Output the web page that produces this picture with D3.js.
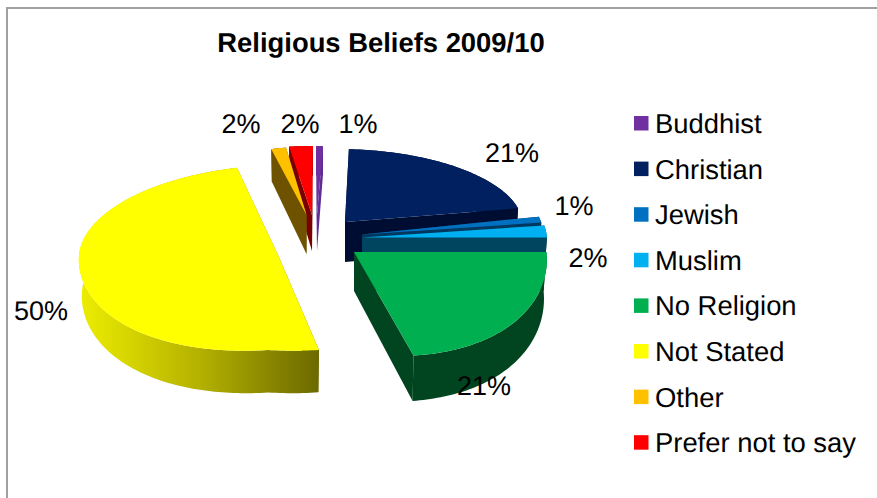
<!DOCTYPE html>
<html><head><meta charset="utf-8">
<script src="https://cdn.jsdelivr.net/npm/d3@7/dist/d3.min.js"></script>
<style>html,body{margin:0;padding:0;background:#fff}svg{display:block;font-family:"Liberation Sans",Arial,sans-serif;text-rendering:geometricPrecision}</style>
</head><body><svg id="c" width="877" height="498"></svg>
<script>
const categories = ["Buddhist","Christian","Jewish","Muslim","No Religion","Not Stated","Other","Prefer not to say"];
const values = [1,21,1,2,21,50,2,2];
const topColors = ["#7030a0","#002060","#0070c0","#00b0f0","#00b050","#ffff00","#ffc000","#ff0000"];
const wallColors = ["#5f2c92","#000d33","#00385f","#004560","#00451f","url(#yw)","#6e5200","#7a0000"];
const title = "Religious Beliefs 2009/10";

// Per-slice projection of the exploded, tilted disk.
const geometry = {
  "Buddhist":          {cx:317,cy:215,rx:111,far:69,near:69,sk:-1,b:0,dd:0},
  "Christian":         {cx:345,cy:222,rx:177.6,far:73,near:75,sk:-7.3,b:0,dd:4},
  "Jewish":            {cx:362,cy:234.5,rx:182,far:95,near:95,sk:-10,b:0,dd:0},
  "Muslim":            {cx:362,cy:237.5,rx:185,far:96,near:96,sk:-10,b:0,dd:0},
  "No Religion":       {cx:354,cy:252,rx:192.5,far:90,near:103,sk:-12,b:8,dd:3},
  "Not Stated":        {cx:278,cy:255,rx:199,far:90,near:95,sk:8.8,b:6,dd:0},
  "Other":             {cx:306.5,cy:215,rx:120,far:68,near:68,sk:-5.5,b:0,dd:3},
  "Prefer not to say": {cx:312,cy:215,rx:190,far:69,near:69,sk:1,b:0,dd:0}
};
const drawOrder = ["Not Stated","Prefer not to say","Other","Buddhist","Christian","Jewish","Muslim","No Religion"];
const labelPos = [[358,123],[512,152],[574,205],[588,257],[484,385],[41,310],[241,123],[300,123]];
const legendX = 634, legendY0 = 116, legendStep = 45.6, swatch = 14.5;

const svg = d3.select("#c");
const defs = svg.append("defs");
const g = defs.append("linearGradient").attr("id","yw").attr("gradientUnits","userSpaceOnUse")
  .attr("x1",80).attr("x2",319).attr("y1",0).attr("y2",0);
g.append("stop").attr("offset",0).attr("stop-color","#eded00");
g.append("stop").attr("offset",0.5).attr("stop-color","#b4b100");
g.append("stop").attr("offset",1).attr("stop-color","#6c6900");

// border
svg.append("path").attr("d","M7,498V8H877").attr("fill","none").attr("stroke","#a0a0a0").attr("stroke-width",2);

const color = d3.scaleOrdinal(categories, topColors);
const wall = d3.scaleOrdinal(categories, wallColors);
const pie = d3.pie().sort(null)(values);
const line = d3.line();
const depth = (c,p) => 36 + p.dd - 6.5*c;
const wallScale = 0.985;

function pt(p,a){
  const s=Math.sin(a), c=Math.cos(a);
  const ry = c>0 ? p.far : p.near;
  const bulge = c<0 ? p.b*Math.abs(Math.sin(2*a)) : 0;
  return [p.cx + p.rx*s + p.sk*c, p.cy - ry*c + bulge];
}
const low = (q,p,c) => [p.cx+(q[0]-p.cx)*wallScale, q[1]+depth(c,p)];

const byName = new Map(categories.map((n,i)=>[n,pie[i]]));
drawOrder.forEach(name=>{
  const arc=byName.get(name), p=geometry[name];
  const a0=arc.startAngle, a1=arc.endAngle;
  const n=Math.max(4,Math.ceil((a1-a0)/0.02));
  const angs=d3.range(n+1).map(i=>a0+(a1-a0)*i/n);
  const topArc=angs.map(a=>pt(p,a));
  const botArc=angs.map(a=>low(pt(p,a),p,Math.cos(a)));
  const ctr=[p.cx,p.cy], ctrB=[p.cx,p.cy+depth(0,p)];
  const grp=svg.append("g").attr("class","slice");
  const w=wall(name);
  const fillWall=(pts)=>grp.append("path").attr("d",line(pts)+"Z").attr("fill",w);
  fillWall([ctr,topArc[0],botArc[0],ctrB]);
  fillWall([ctr,topArc[n],botArc[n],ctrB]);
  fillWall(topArc.concat(botArc.slice().reverse()));
  grp.append("path").attr("d",line([ctr].concat(topArc))+"Z").attr("fill",color(name));
});

const pctLabels = values.map(v=>v+"%");
svg.selectAll("text.pct").data(pctLabels).join("text").attr("class","pct")
  .attr("x",(d,i)=>labelPos[i][0]).attr("y",(d,i)=>labelPos[i][1]+9.5)
  .attr("text-anchor","middle").attr("font-size",27).attr("fill","#000").text(d=>d);

svg.append("text").attr("x",381).attr("y",52).attr("text-anchor","middle")
  .attr("font-size",27.4).attr("font-weight","bold").text(title);

const leg=svg.selectAll("g.leg").data(categories).join("g").attr("class","leg")
  .attr("transform",(d,i)=>`translate(${legendX},${legendY0+i*legendStep})`);
leg.append("rect").attr("width",swatch).attr("height",swatch).attr("fill",d=>color(d));
leg.append("text").attr("x",21).attr("y",17).attr("font-size",27.4).text(d=>d);
</script></body></html>
